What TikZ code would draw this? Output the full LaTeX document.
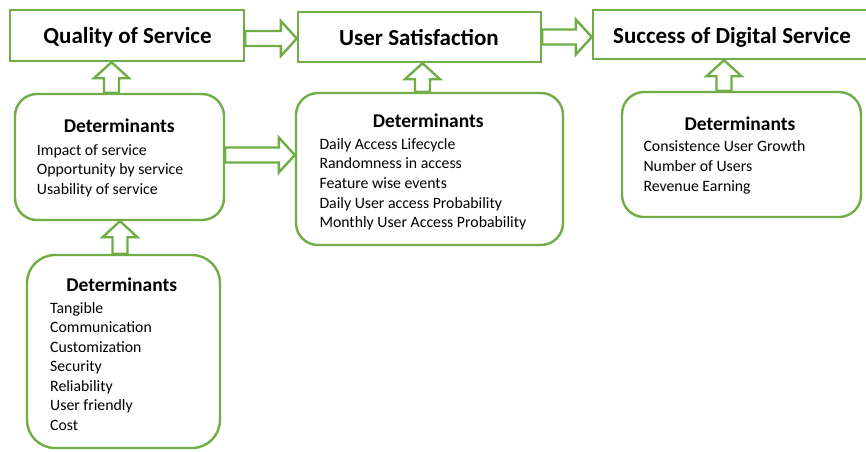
\documentclass[tikz,border=0pt]{standalone}
\usepackage{fontspec}
\setmainfont{Carlito}
\usetikzlibrary{calc,fit}
\definecolor{grn}{RGB}{112,173,71}
\begin{document}
\begin{tikzpicture}[x=1pt,y=-1pt,
  titlebox/.style={draw=grn,line width=2.4pt,fill=white,rectangle,inner sep=0pt},
  detbox/.style={draw=grn,line width=2.4pt,fill=white,rounded corners=22pt,inner sep=0pt},
  ttl/.style={font=\bfseries\fontsize{23}{26}\selectfont,anchor=base,inner sep=0pt},
  hd/.style={font=\bfseries\fontsize{19.5}{22}\selectfont,anchor=base,inner sep=0pt},
  itm/.style={font=\fontsize{15.8}{18}\selectfont,anchor=base west,inner sep=0pt},
  barrow/.style={draw=grn,line width=2.4pt,fill=white,line join=miter},
  harr/.style={barrow,to path={let \p1=(\tikztostart),\p2=(\tikztotarget) in
     (\x1,\y1+7.5pt) -- (\x2-16pt,\y1+7.5pt) -- (\x2-16pt,\y1+17.5pt) -- (\x2,\y1)
     -- (\x2-16pt,\y1-17.5pt) -- (\x2-16pt,\y1-7.5pt) -- (\x1,\y1-7.5pt) -- cycle}},
  varr/.style={barrow,to path={let \p1=(\tikztostart),\p2=(\tikztotarget) in
     (\x1-7.5pt,\y1) -- (\x1-7.5pt,\y2-16pt) -- (\x1-17.5pt,\y2-16pt) -- (\x1,\y2)
     -- (\x1+17.5pt,\y2-16pt) -- (\x1+7.5pt,\y2-16pt) -- (\x1+7.5pt,\y1) -- cycle}}
]
\useasboundingbox (0,0) rectangle (866,451);
\clip (0,0) rectangle (866,451);
\fill[white] (0,0) rectangle (866,451);

% title boxes
\node[titlebox,fit={(10,10) (244,61)}] (q) {};
\node[titlebox,fit={(298,12) (541,62)}] (u) {};
\node[titlebox,fit={(593,10) (880,59)}] (s) {};

% determinant boxes
\node[detbox,fit={(15,94) (224,220)}] (d1) {};
\node[detbox,fit={(296,93) (563,245)}] (d2) {};
\node[detbox,fit={(622,92) (861,217)}] (d3) {};
\node[detbox,rounded corners=28pt,fit={(27,255) (220,448)}] (d4) {};

% block arrows
\draw[harr] ([yshift=-3pt]q.east) to (u.west);
\draw[harr] (u.east) to (s.west);
\draw[harr] ([yshift=2pt]d1.east) to (d2.west);
\draw[varr] ([xshift=-8pt]d1.north) to ([xshift=-8pt]q.south);
\draw[varr] ([xshift=-7pt]d2.north) to ([xshift=-7pt]u.south);
\draw[varr] ([xshift=-17.5pt]d3.north) to ([xshift=-17.5pt]s.south);
\draw[varr] ([xshift=-3.5pt]d4.north) to ([xshift=-3.5pt]d1.south);

% titles
\node[ttl] (tq) at (127.5,43.3) {Quality of Service};
\node[ttl] (tu) at (419,45) {User Satisfaction};
\node[ttl] (ts) at (732,43.3) {Success of Digital Service};

% headers
\node[hd] (h1) at (119.2,132.7) {Determinants};
\node[hd] (h2) at (428.3,127.3) {Determinants};
\node[hd] (h3) at (740,130.7) {Determinants};
\node[hd] (h4) at (121.7,291.7) {Determinants};

% items
\foreach \t [count=\i] in {Impact of service,Opportunity by service,Usability of service}
  \node[itm] (a\i) at (36.7,{155+19.5*(\i-1)}) {\t};
\foreach \t [count=\i] in {Daily Access Lifecycle,Randomness in access,Feature wise events,Daily User access Probability,Monthly User Access Probability}
  \node[itm] (b\i) at (319.3,{149.3+19.6*(\i-1)}) {\t};
\foreach \t [count=\i] in {Consistence User Growth,Number of Users,Revenue Earning}
  \node[itm] (c\i) at (643.3,{151.7+20*(\i-1)}) {\t};
\foreach \t [count=\i] in {Tangible,Communication,Customization,Security,Reliability,User friendly,Cost}
  \node[itm] (e\i) at (50,{313.3+19.5*(\i-1)}) {\t};
\end{tikzpicture}
\end{document}
